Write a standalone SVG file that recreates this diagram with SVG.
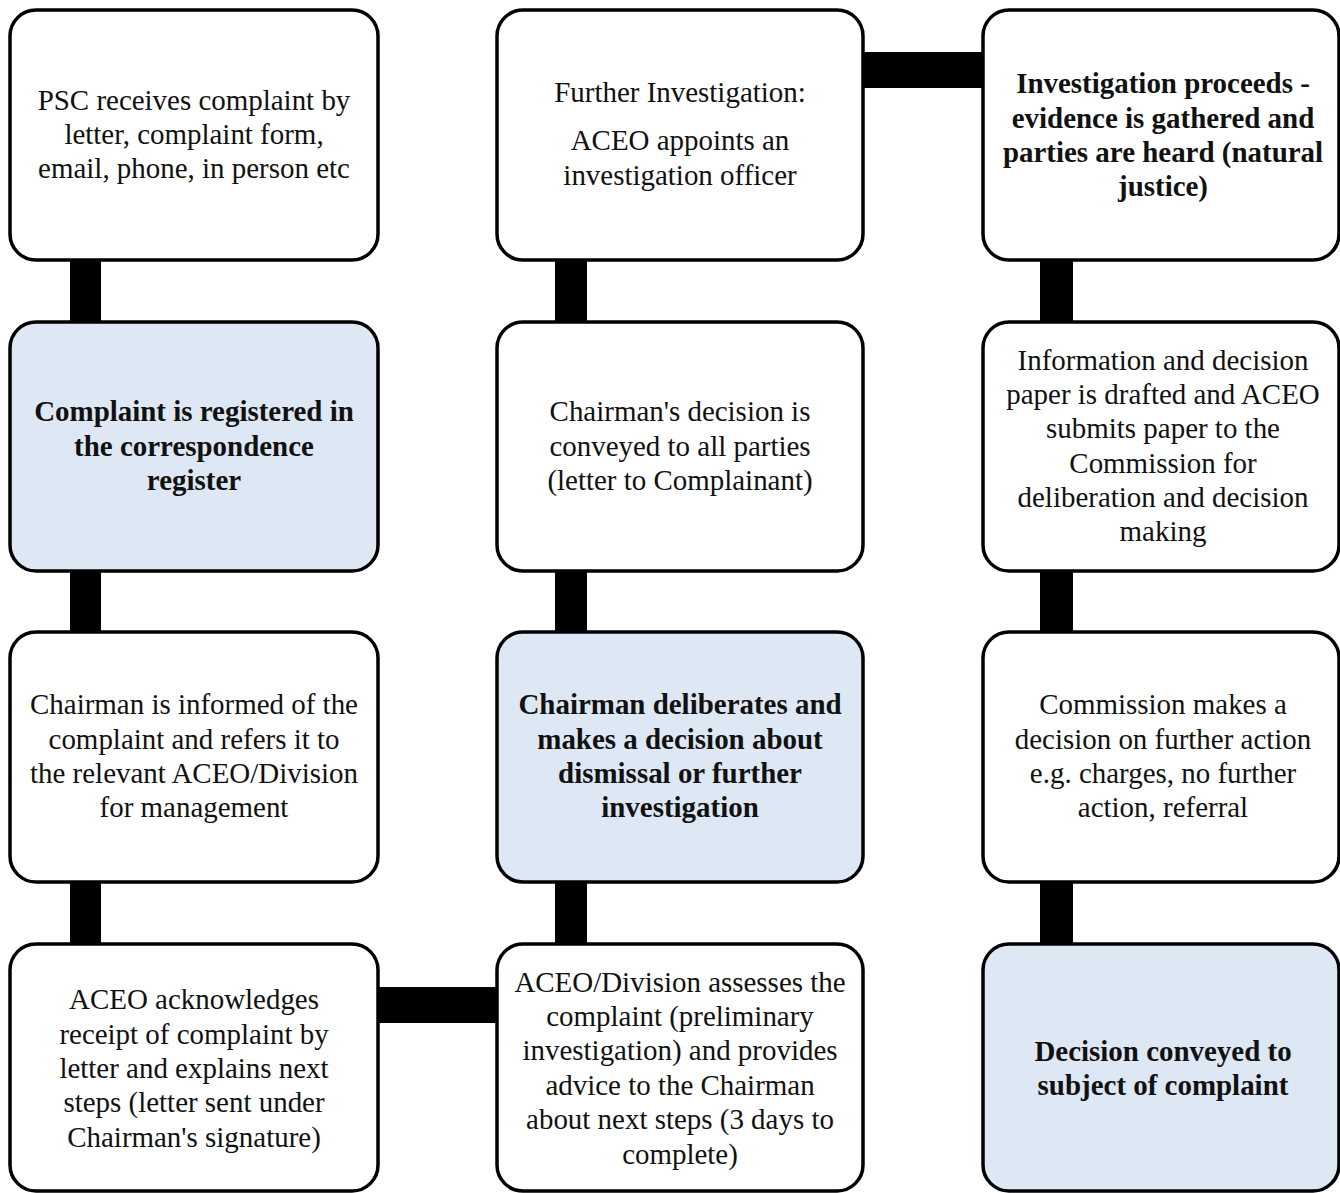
<svg xmlns="http://www.w3.org/2000/svg" width="1340" height="1193" viewBox="0 0 1340 1193">
<style>
.box{fill:#ffffff;stroke:#000;stroke-width:3.5}
.hl{fill:#dde8f4}
.t{font-family:'Liberation Serif','Times New Roman',Tinos,'DejaVu Serif',serif;font-size:30px;fill:#111;text-anchor:middle}
.b{font-weight:bold}
.con{fill:#000}
</style>
<rect width="1340" height="1193" fill="#fff"/>
<g id="connectors">
<rect class="con" x="70" y="258" width="31" height="66"/>
<rect class="con" x="70" y="569" width="31" height="65"/>
<rect class="con" x="70" y="880" width="31" height="66"/>
<rect class="con" x="555" y="258" width="32" height="66"/>
<rect class="con" x="555" y="569" width="32" height="65"/>
<rect class="con" x="555" y="880" width="32" height="66"/>
<rect class="con" x="1040" y="258" width="33" height="66"/>
<rect class="con" x="1040" y="569" width="33" height="65"/>
<rect class="con" x="1040" y="880" width="33" height="66"/>
<rect class="con" x="376" y="987" width="123" height="36"/>
<rect class="con" x="861" y="52" width="124" height="36"/>
</g>
<g id="n1">
<rect class="box" x="10" y="10" width="368" height="250" rx="26"/>
<g transform="translate(194 0) scale(0.965 1)">
<text class="t" font-family="Liberation Serif, serif" x="0" y="110">PSC receives complaint by</text>
<text class="t" font-family="Liberation Serif, serif" x="0" y="144">letter, complaint form,</text>
<text class="t" font-family="Liberation Serif, serif" x="0" y="178">email, phone, in person etc</text>
</g>
</g>
<g id="n2">
<rect class="box" x="497" y="10" width="366" height="250" rx="26"/>
<g transform="translate(680 0) scale(0.965 1)">
<text class="t" x="0" y="102">Further Investigation:</text>
<text class="t" x="0" y="150">ACEO appoints an</text>
<text class="t" x="0" y="185">investigation officer</text>
</g>
</g>
<g id="n3">
<rect class="box" x="983" y="10" width="356" height="250" rx="26"/>
<g transform="translate(1163 0) scale(0.965 1)">
<text class="t b" x="0" y="93">Investigation proceeds -</text>
<text class="t b" x="0" y="128">evidence is gathered and</text>
<text class="t b" x="0" y="162">parties are heard (natural</text>
<text class="t b" x="0" y="196">justice)</text>
</g>
</g>
<g id="n4">
<rect class="box hl" x="10" y="322" width="368" height="249" rx="26"/>
<g transform="translate(194 0) scale(0.965 1)">
<text class="t b" x="0" y="421">Complaint is registered in</text>
<text class="t b" x="0" y="456">the correspondence</text>
<text class="t b" x="0" y="490">register</text>
</g>
</g>
<g id="n5">
<rect class="box" x="497" y="322" width="366" height="249" rx="26"/>
<g transform="translate(680 0) scale(0.965 1)">
<text class="t" x="0" y="421">Chairman's decision is</text>
<text class="t" x="0" y="456">conveyed to all parties</text>
<text class="t" x="0" y="490">(letter to Complainant)</text>
</g>
</g>
<g id="n6">
<rect class="box" x="983" y="322" width="356" height="249" rx="26"/>
<g transform="translate(1163 0) scale(0.965 1)">
<text class="t" x="0" y="370">Information and decision</text>
<text class="t" x="0" y="404">paper is drafted and ACEO</text>
<text class="t" x="0" y="438">submits paper to the</text>
<text class="t" x="0" y="473">Commission for</text>
<text class="t" x="0" y="507">deliberation and decision</text>
<text class="t" x="0" y="541">making</text>
</g>
</g>
<g id="n7">
<rect class="box" x="10" y="632" width="368" height="250" rx="26"/>
<g transform="translate(194 0) scale(0.965 1)">
<text class="t" x="0" y="714">Chairman is informed of the</text>
<text class="t" x="0" y="749">complaint and refers it to</text>
<text class="t" x="0" y="783">the relevant ACEO/Division</text>
<text class="t" x="0" y="817">for management</text>
</g>
</g>
<g id="n8">
<rect class="box hl" x="497" y="632" width="366" height="250" rx="26"/>
<g transform="translate(680 0) scale(0.965 1)">
<text class="t b" x="0" y="714">Chairman  deliberates and</text>
<text class="t b" x="0" y="749">makes a decision about</text>
<text class="t b" x="0" y="783">dismissal or further</text>
<text class="t b" x="0" y="817">investigation</text>
</g>
</g>
<g id="n9">
<rect class="box" x="983" y="632" width="356" height="250" rx="26"/>
<g transform="translate(1163 0) scale(0.965 1)">
<text class="t" x="0" y="714">Commission makes a</text>
<text class="t" x="0" y="749">decision on further action</text>
<text class="t" x="0" y="783">e.g. charges, no further</text>
<text class="t" x="0" y="817">action, referral</text>
</g>
</g>
<g id="n10">
<rect class="box" x="10" y="944" width="368" height="247" rx="26"/>
<g transform="translate(194 0) scale(0.965 1)">
<text class="t" x="0" y="1009">ACEO acknowledges</text>
<text class="t" x="0" y="1044">receipt of complaint by</text>
<text class="t" x="0" y="1078">letter and explains next</text>
<text class="t" x="0" y="1112">steps (letter sent under</text>
<text class="t" x="0" y="1147">Chairman's signature)</text>
</g>
</g>
<g id="n11">
<rect class="box" x="497" y="944" width="366" height="247" rx="26"/>
<g transform="translate(680 0) scale(0.965 1)">
<text class="t" x="0" y="992">ACEO/Division assesses the</text>
<text class="t" x="0" y="1026">complaint (preliminary</text>
<text class="t" x="0" y="1060">investigation) and provides</text>
<text class="t" x="0" y="1095">advice to the Chairman</text>
<text class="t" x="0" y="1129">about next steps (3 days to</text>
<text class="t" x="0" y="1164">complete)</text>
</g>
</g>
<g id="n12">
<rect class="box hl" x="983" y="944" width="356" height="247" rx="26"/>
<g transform="translate(1163 0) scale(0.965 1)">
<text class="t b" x="0" y="1061">Decision conveyed to</text>
<text class="t b" x="0" y="1095">subject of complaint</text>
</g>
</g>
</svg>
